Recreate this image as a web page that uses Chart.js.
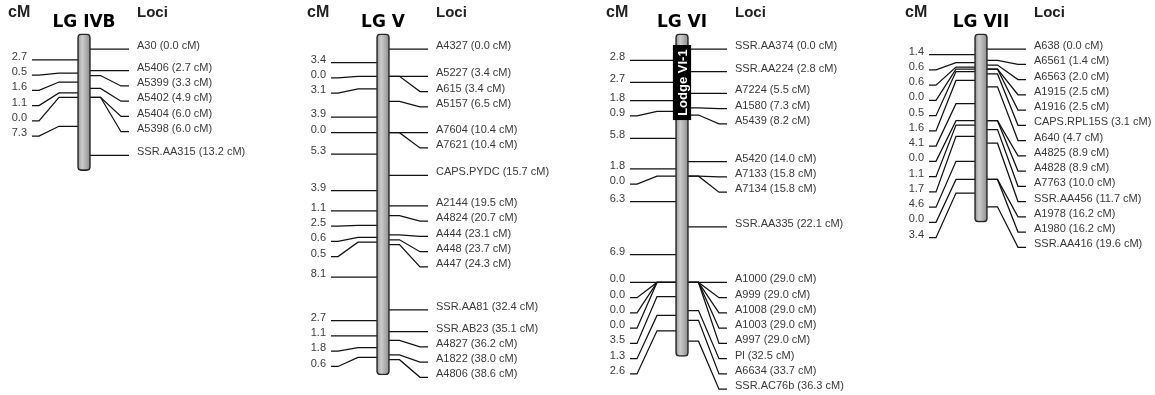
<!DOCTYPE html>
<html>
<head>
<meta charset="utf-8">
<title>Linkage map</title>
<script src="https://cdn.jsdelivr.net/npm/chart.js@4.4.1/dist/chart.umd.min.js"></script>
<style>
  html, body { margin: 0; padding: 0; background: #fff; overflow: hidden; }
  #wrap { position: relative; width: 1155px; height: 395px; }
</style>
</head>
<body>
<div id="wrap"><canvas id="map" width="1155" height="395"></canvas></div>
<script>
// Linkage groups
const groups = ['LG IVB', 'LG V', 'LG VI', 'LG VII'];

// LG IVB
const lociIVB = ['A30', 'A5406', 'A5399', 'A5402', 'A5404', 'A5398', 'SSR.AA315'];
const posIVB = [0.0, 2.7, 3.3, 4.9, 6.0, 6.0, 13.2];
const gapIVB = [2.7, 0.5, 1.6, 1.1, 0.0, 7.3];

// LG V
const lociV = ['A4327', 'A5227', 'A615', 'A5157', 'A7604', 'A7621', 'CAPS.PYDC', 'A2144', 'A4824',
    'A444', 'A448', 'A447', 'SSR.AA81', 'SSR.AB23', 'A4827', 'A1822', 'A4806'];
const posV = [0.0, 3.4, 3.4, 6.5, 10.4, 10.4, 15.7, 19.5, 20.7, 23.1, 23.7, 24.3, 32.4, 35.1, 36.2, 38.0, 38.6];
const gapV = [3.4, 0.0, 3.1, 3.9, 0.0, 5.3, 3.9, 1.1, 2.5, 0.6, 0.5, 8.1, 2.7, 1.1, 1.8, 0.6];

// LG VI
const lociVI = ['SSR.AA374', 'SSR.AA224', 'A7224', 'A1580', 'A5439', 'A5420', 'A7133', 'A7134', 'SSR.AA335',
    'A1000', 'A999', 'A1008', 'A1003', 'A997', 'Pl', 'A6634', 'SSR.AC76b'];
const posVI = [0.0, 2.8, 5.5, 7.3, 8.2, 14.0, 15.8, 15.8, 22.1, 29.0, 29.0, 29.0, 29.0, 29.0, 32.5, 33.7, 36.3];
const gapVI = [2.8, 2.7, 1.8, 0.9, 5.8, 1.8, 0.0, 6.3, 6.9, 0.0, 0.0, 0.0, 0.0, 3.5, 1.3, 2.6];

// LG VII
const lociVII = ['A638', 'A6561', 'A6563', 'A1915', 'A1916', 'CAPS.RPL15S', 'A640', 'A4825', 'A4828',
    'A7763', 'SSR.AA456', 'A1978', 'A1980', 'SSR.AA416'];
const posVII = [0.0, 1.4, 2.0, 2.5, 2.5, 3.1, 4.7, 8.9, 8.9, 10.0, 11.7, 16.2, 16.2, 19.6];
const gapVII = [1.4, 0.6, 0.6, 0.0, 0.5, 1.6, 4.1, 0.0, 1.1, 1.7, 4.6, 0.0, 3.4];

// QTL region on LG VI
const lodgeName = 'Lodge VI-1';
const lodgeGroup = 2;
const lodgeRange = [-0.45, 8.8];

const loci = [lociIVB, lociV, lociVI, lociVII];
const positions = [posIVB, posV, posVI, posVII];
const gaps = [gapIVB, gapV, gapVI, gapVII];

// Layout (pixels)
const W = 1155, H = 395;
const PX_PER_CM = 8.05, ZERO_PX = 49;
const FIRST_PX = 84, STEP_PX = 299;
const ROW_PX = 15.25;
const CHROM_PAD = 1.9;
const px = d => d / STEP_PX; // pixel offset -> x units

// Push labels down so they keep a minimum spacing
function spread(vals) {
    const gap = ROW_PX / PX_PER_CM;
    const out = [];
    vals.forEach((v, i) => {
        out.push(i > 0 && out[i - 1] + gap > v ? out[i - 1] + gap : v);
    });
    return out;
}

const rightRows = positions.map(p => spread(p));
const mids = positions.map(p => p.slice(1).map((v, i) => (v + p[i]) / 2));
const leftRows = mids.map(m => spread(m));

// Chromosome shading
function chromFill(ctx) {
    const chart = ctx.chart;
    const cx = chart.scales.x ? chart.scales.x.getPixelForValue(ctx.dataIndex) : NaN;
    if (!Number.isFinite(cx)) return '#b0b0b0';
    const g = chart.ctx.createLinearGradient(cx - 6, 0, cx + 6, 0);
    g.addColorStop(0, '#999999');
    g.addColorStop(0.35, '#cccccc');
    g.addColorStop(1, '#8f8f8f');
    return g;
}

const datasets = [];

datasets.push({
    type: 'bar',
    data: [{ x: lodgeGroup, y: lodgeRange }],
    backgroundColor: '#000',
    borderColor: '#000',
    borderWidth: 1,
    borderSkipped: false,
    barThickness: 18,
    grouped: false,
    order: 0
});

datasets.push({
    type: 'bar',
    data: positions.map((p, i) => ({ x: i, y: [-CHROM_PAD, p[p.length - 1] + CHROM_PAD] })),
    backgroundColor: chromFill,
    borderColor: '#2a2a2a',
    borderWidth: 1.6,
    borderRadius: 4,
    borderSkipped: false,
    barThickness: 13,
    grouped: false,
    order: 1
});

function connector(points) {
    datasets.push({
        type: 'line',
        data: points,
        borderColor: '#111',
        borderWidth: 1.25,
        pointRadius: 0,
        fill: false,
        tension: 0,
        order: 2
    });
}

positions.forEach((p, g) => {
    p.forEach((cm, k) => {
        const row = rightRows[g][k];
        connector([
            { x: g + px(6), y: cm },
            { x: g + px(16.5), y: cm },
            { x: g + px(37), y: row },
            { x: g + px(45), y: row }
        ]);
    });
    mids[g].forEach((cm, k) => {
        const row = leftRows[g][k];
        connector([
            { x: g - px(6), y: cm },
            { x: g - px(25), y: cm },
            { x: g - px(45), y: row },
            { x: g - px(52), y: row }
        ]);
    });
});

const textPlugin = {
    id: 'mapText',
    afterDatasetsDraw(chart) {
        const c = chart.ctx;
        const xs = chart.scales.x, ys = chart.scales.y;
        c.save();
        groups.forEach((name, g) => {
            const cx = xs.getPixelForValue(g);

            c.fillStyle = '#000';
            c.textAlign = 'center';
            c.textBaseline = 'middle';
            c.font = 'bold 17px "DejaVu Sans"';
            c.fillText(name, cx, 23);

            c.fillStyle = '#222';
            c.textAlign = 'left';
            c.font = 'bold 16px "Liberation Sans"';
            c.fillText('cM', cx - 76, 13);
            c.font = 'bold 15px "Liberation Sans"';
            c.fillText('Loci', cx + 53, 13);

            c.fillStyle = '#3a3a3a';
            c.font = '11px "Liberation Sans"';
            loci[g].forEach((nm, k) => {
                const y = ys.getPixelForValue(rightRows[g][k]) - 3;
                c.fillText(nm + ' (' + positions[g][k].toFixed(1) + ' cM)', cx + 53, y);
            });
            c.textAlign = 'right';
            gaps[g].forEach((v, k) => {
                const y = ys.getPixelForValue(leftRows[g][k]) - 3;
                c.fillText(v.toFixed(1), cx - 57, y);
            });
        });

        // QTL label
        const lx = xs.getPixelForValue(lodgeGroup);
        const ly = (ys.getPixelForValue(lodgeRange[0]) + ys.getPixelForValue(lodgeRange[1])) / 2;
        c.translate(lx, ly);
        c.rotate(-Math.PI / 2);
        c.fillStyle = '#fff';
        c.textAlign = 'center';
        c.textBaseline = 'middle';
        c.font = 'bold 13px "Liberation Sans"';
        c.fillText(lodgeName, 0, 1);
        c.restore();
    }
};

new Chart(document.getElementById('map'), {
    type: 'bar',
    data: { datasets },
    options: {
        responsive: false,
        animation: false,
        devicePixelRatio: 1,
        layout: { padding: 0 },
        plugins: { legend: { display: false }, tooltip: { enabled: false } },
        scales: {
            x: { type: 'linear', display: false, offset: false, min: -FIRST_PX / STEP_PX, max: (W - FIRST_PX) / STEP_PX },
            y: { type: 'linear', display: false, reverse: true, min: -ZERO_PX / PX_PER_CM, max: (H - ZERO_PX) / PX_PER_CM }
        }
    },
    plugins: [textPlugin]
});
</script>
</body>
</html>
